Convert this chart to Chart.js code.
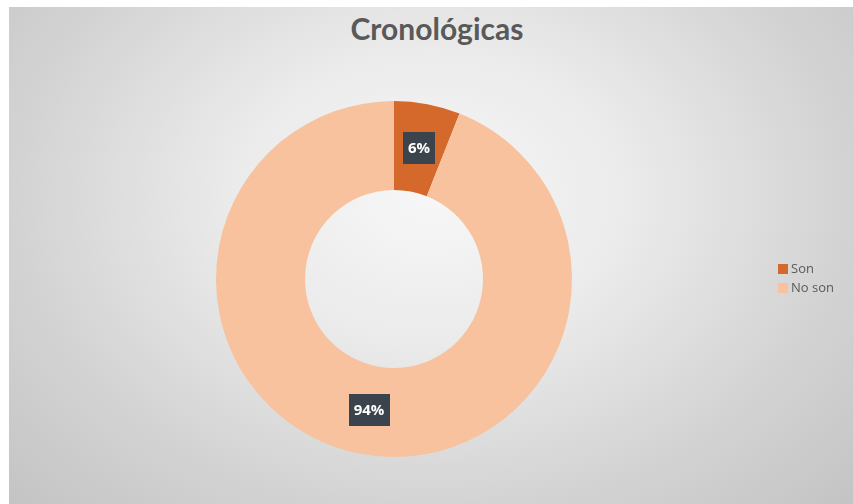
<!DOCTYPE html>
<html>
<head>
<meta charset="utf-8">
<script src="https://cdn.jsdelivr.net/npm/chart.js@4/dist/chart.umd.min.js"></script>
<style>
  html, body { margin: 0; padding: 0; background: #fff; }
  #wrap { position: relative; width: 853px; height: 504px; overflow: hidden; }
  #panel {
    position: absolute; left: 9px; top: 7px; width: 844px; height: 497px;
    background: radial-gradient(ellipse 72% 92% at 50% 38%, #f7f7f7 0%, #ebebeb 32%, #d3d3d3 68%, #c2c2c2 100%);
  }
  #title {
    position: absolute; left: 0; width: 853px; top: 10px; text-align: center;
    padding-left: 21px; box-sizing: border-box;
    font: bold 30px Lato, "Open Sans", sans-serif; color: #595959;
  }
  #chart { position: absolute; left: 0; top: 0; }
  #legend { position: absolute; left: 778px; top: 259px; font: 13px "Open Sans", sans-serif; color: #595959; }
  #legend div { height: 19px; line-height: 19px; white-space: nowrap; }
  #legend span { display: inline-block; width: 10px; height: 10px; margin-right: 3px; vertical-align: -1px; }
</style>
</head>
<body>
<div id="wrap">
  <div id="panel"></div>
  <div id="title"></div>
  <canvas id="chart" width="853" height="504"></canvas>
  <div id="legend"></div>
</div>
<script>
/* DATA */
const chartTitle = "Cronológicas";
const categories = ["Son", "No son"];
const values = [6, 94];
const colors = ["#d4692b", "#f7c29d"];

document.getElementById("title").innerText = chartTitle;

/* LEGEND */
let legend = document.getElementById("legend");
categories.forEach((name, i) => {
    let row = document.createElement("div");
    let box = document.createElement("span");
    box.style.background = colors[i];
    row.appendChild(box);
    row.appendChild(document.createTextNode(name));
    legend.appendChild(row);
});

/* PERCENT LABELS */
const boxLabels = {
    id: "boxLabels",
    afterDatasetsDraw(chart) {
        let ctx = chart.ctx;
        let total = values.reduce((a, b) => a + b, 0);
        chart.getDatasetMeta(0).data.forEach((arc, i) => {
            let p = arc.getCenterPoint();
            let text = Math.round(values[i] / total * 100) + "%";
            ctx.save();
            ctx.font = "bold 15px 'Open Sans', sans-serif";
            let w = ctx.measureText(text).width + 10;
            let h = 32;
            ctx.fillStyle = "#3b444c";
            ctx.fillRect(Math.round(p.x - w / 2), Math.round(p.y - h / 2), Math.round(w), h);
            ctx.fillStyle = "#ffffff";
            ctx.textAlign = "center";
            ctx.textBaseline = "middle";
            ctx.fillText(text, p.x, p.y + 1);
            ctx.restore();
        });
    }
};

/* CHART */
let ctx = document.getElementById("chart").getContext("2d");
let chart = new Chart(ctx, {
    type: "doughnut",
    data: {
        labels: categories,
        datasets: [{
            data: values,
            backgroundColor: colors,
            borderWidth: 0
        }]
    },
    options: {
        responsive: false,
        animation: false,
        cutout: "50%",
        layout: { padding: { left: 216, right: 281, top: 101, bottom: 47 } },
        plugins: {
            legend: { display: false },
            title: { display: false },
            tooltip: { enabled: false }
        }
    },
    plugins: [boxLabels]
});
</script>
</body>
</html>
